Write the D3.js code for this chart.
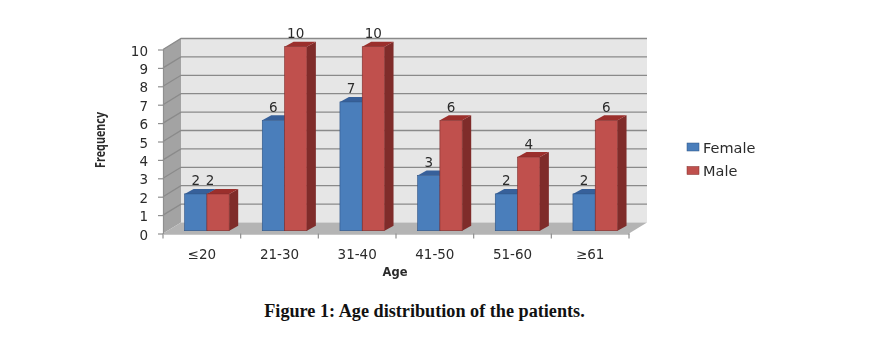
<!DOCTYPE html>
<html>
<head>
<meta charset="utf-8">
<script src="https://cdn.jsdelivr.net/npm/d3@7"></script>
<style>
  html, body { margin: 0; padding: 0; background: #fff; }
  svg { display: block; }
  svg > *:not(.caption) { filter: blur(0.35px); }
  text { fill: #2b2b2b; font-family: "DejaVu Sans", sans-serif; }
  .tick-label { font-size: 13.5px; }
  .legend-label { font-size: 14.5px; }
</style>
</head>
<body>
<div id="chart"></div>
<script>
var categories = ["≤20", "21-30", "31-40", "41-50", "51-60", "≥61"];
var seriesNames = ["Female", "Male"];
var female = [2, 6, 7, 3, 2, 2];
var male = [2, 10, 10, 6, 4, 6];
var yTicks = [0, 1, 2, 3, 4, 5, 6, 7, 8, 9, 10];

var colors = {
  Female: { front: "#4a7ebb", top: "#37609a", side: "#2f5485" },
  Male: { front: "#c0504d", top: "#9b2f2c", side: "#7f2c2a" }
};

var width = 873, height = 340;
var wallDx = 18, wallDy = -11;   // depth of the 3d box
var barDx = 9, barDy = -5;       // depth of a single bar
var insetDx = 3.6, insetDy = -2.8; // bars stand a little behind the front edge

var svg = d3.select("#chart").append("svg")
  .attr("width", width)
  .attr("height", height);

var x = d3.scaleBand().domain(categories).range([163, 629]);
var xInner = d3.scaleBand().domain(seriesNames).range([18, 62.6]);
var y = d3.scaleLinear().domain([0, 10]).range([233.5, 49.5]);

var left = x.range()[0], right = x.range()[1];

// walls and floor
var pts = function (a) { return a.map(function (p) { return p.join(","); }).join(" "); };

svg.append("polygon")
  .attr("fill", "#e6e6e6")
  .attr("points", pts([[left + wallDx, y(10) + wallDy], [right + wallDx, y(10) + wallDy],
    [right + wallDx, y(0) + wallDy], [left + wallDx, y(0) + wallDy]]));

svg.append("polygon")
  .attr("fill", "#a3a3a3")
  .attr("points", pts([[left, y(10)], [left + wallDx, y(10) + wallDy],
    [left + wallDx, y(0) + wallDy], [left, y(0)]]));

svg.append("polygon")
  .attr("fill", "#b4b4b4")
  .attr("points", pts([[left, y(0)], [left + wallDx, y(0) + wallDy],
    [right + wallDx, y(0) + wallDy], [right, y(0)]]));

// gridlines run along the side wall then the back wall
svg.append("g").selectAll("polyline")
  .data(yTicks.filter(function (d) { return d > 0; }))
  .join("polyline")
  .attr("fill", "none")
  .attr("stroke", "#8a8a8a")
  .attr("stroke-width", 1.3)
  .attr("points", function (d) {
    return pts([[left, y(d)], [left + wallDx, y(d) + wallDy], [right + wallDx, y(d) + wallDy]]);
  });

// axes
var yAxis = svg.append("g")
  .attr("transform", "translate(" + left + ",0)")
  .call(d3.axisLeft(y).tickValues(yTicks).tickSize(5).tickPadding(10).tickSizeOuter(0));
yAxis.selectAll("text").attr("class", "tick-label").attr("dy", "0.42em");

var xAxis = svg.append("g")
  .attr("transform", "translate(0," + y(0) + ")")
  .call(d3.axisBottom(x).tickSize(0).tickPadding(16));
xAxis.selectAll("text").attr("class", "tick-label");

svg.append("g").selectAll("line")
  .data(categories.concat(["end"]))
  .join("line")
  .attr("x1", function (d) { return d === "end" ? right : x(d); })
  .attr("x2", function (d) { return d === "end" ? right : x(d); })
  .attr("y1", y(0))
  .attr("y2", y(0) + 5);

svg.selectAll(".domain, .tick line, g > line")
  .attr("stroke", "#8f8f8f")
  .attr("stroke-width", 1.2);

// bars
var bars = [];
categories.forEach(function (c, i) {
  bars.push({ cat: c, name: "Female", value: female[i] });
  bars.push({ cat: c, name: "Male", value: male[i] });
});

var barGroup = svg.append("g").selectAll("g")
  .data(bars)
  .join("g")
  .attr("transform", function (d) {
    return "translate(" + (x(d.cat) + xInner(d.name) + insetDx) + "," + insetDy + ")";
  });

var bw = xInner.bandwidth();

barGroup.append("polygon")
  .attr("fill", function (d) { return colors[d.name].side; })
  .attr("points", function (d) {
    return pts([[bw, y(d.value)], [bw + barDx, y(d.value) + barDy], [bw + barDx, y(0) + barDy], [bw, y(0)]]);
  });

barGroup.append("polygon")
  .attr("fill", function (d) { return colors[d.name].top; })
  .attr("points", function (d) {
    return pts([[0, y(d.value)], [barDx, y(d.value) + barDy], [bw + barDx, y(d.value) + barDy], [bw, y(d.value)]]);
  });

barGroup.append("rect")
  .attr("y", function (d) { return y(d.value); })
  .attr("width", bw)
  .attr("height", function (d) { return y(0) - y(d.value); })
  .attr("fill", function (d) { return colors[d.name].front; })
  .attr("stroke", function (d) { return colors[d.name].side; })
  .attr("stroke-width", 0.6);

// value labels, the male one in the first group is pulled left in the original
barGroup.append("text")
  .attr("class", "tick-label")
  .attr("text-anchor", "middle")
  .attr("x", function (d) { return bw / 2 + (d.cat === categories[0] && d.name === "Male" ? -8 : 0); })
  .attr("y", function (d) { return y(d.value) - 8.5; })
  .text(function (d) { return d.value; });

// axis titles
svg.append("text")
  .attr("x", 395).attr("y", 276)
  .attr("text-anchor", "middle")
  .attr("font-size", 11.5)
  .attr("font-weight", "bold")
  .text("Age");

svg.append("text")
  .attr("transform", "translate(105,140) rotate(-90)")
  .attr("text-anchor", "middle")
  .style("font-family", "'Open Sans', sans-serif")
  .attr("font-size", 14)
  .attr("font-weight", 700)
  .attr("textLength", 56)
  .attr("lengthAdjust", "spacingAndGlyphs")
  .text("Frequency");

// legend
var legend = svg.append("g").selectAll("g")
  .data(seriesNames)
  .join("g")
  .attr("transform", function (d, i) { return "translate(687," + (143 + i * 23.5) + ")"; });

legend.append("rect")
  .attr("width", 12)
  .attr("height", 8)
  .attr("fill", function (d) { return colors[d].front; })
  .attr("stroke", function (d) { return colors[d].side; })
  .attr("stroke-width", 0.5);

legend.append("text")
  .attr("class", "legend-label")
  .attr("x", 16)
  .attr("y", 9.5)
  .text(function (d) { return d; });

// caption
svg.append("text")
  .attr("class", "caption")
  .attr("x", 424.5).attr("y", 317)
  .attr("text-anchor", "middle")
  .style("font-family", "'Liberation Serif', serif")
  .style("fill", "#111")
  .attr("font-size", 18.2)
  .attr("font-weight", "bold")
  .text("Figure 1: Age distribution of the patients.");
</script>
</body>
</html>
